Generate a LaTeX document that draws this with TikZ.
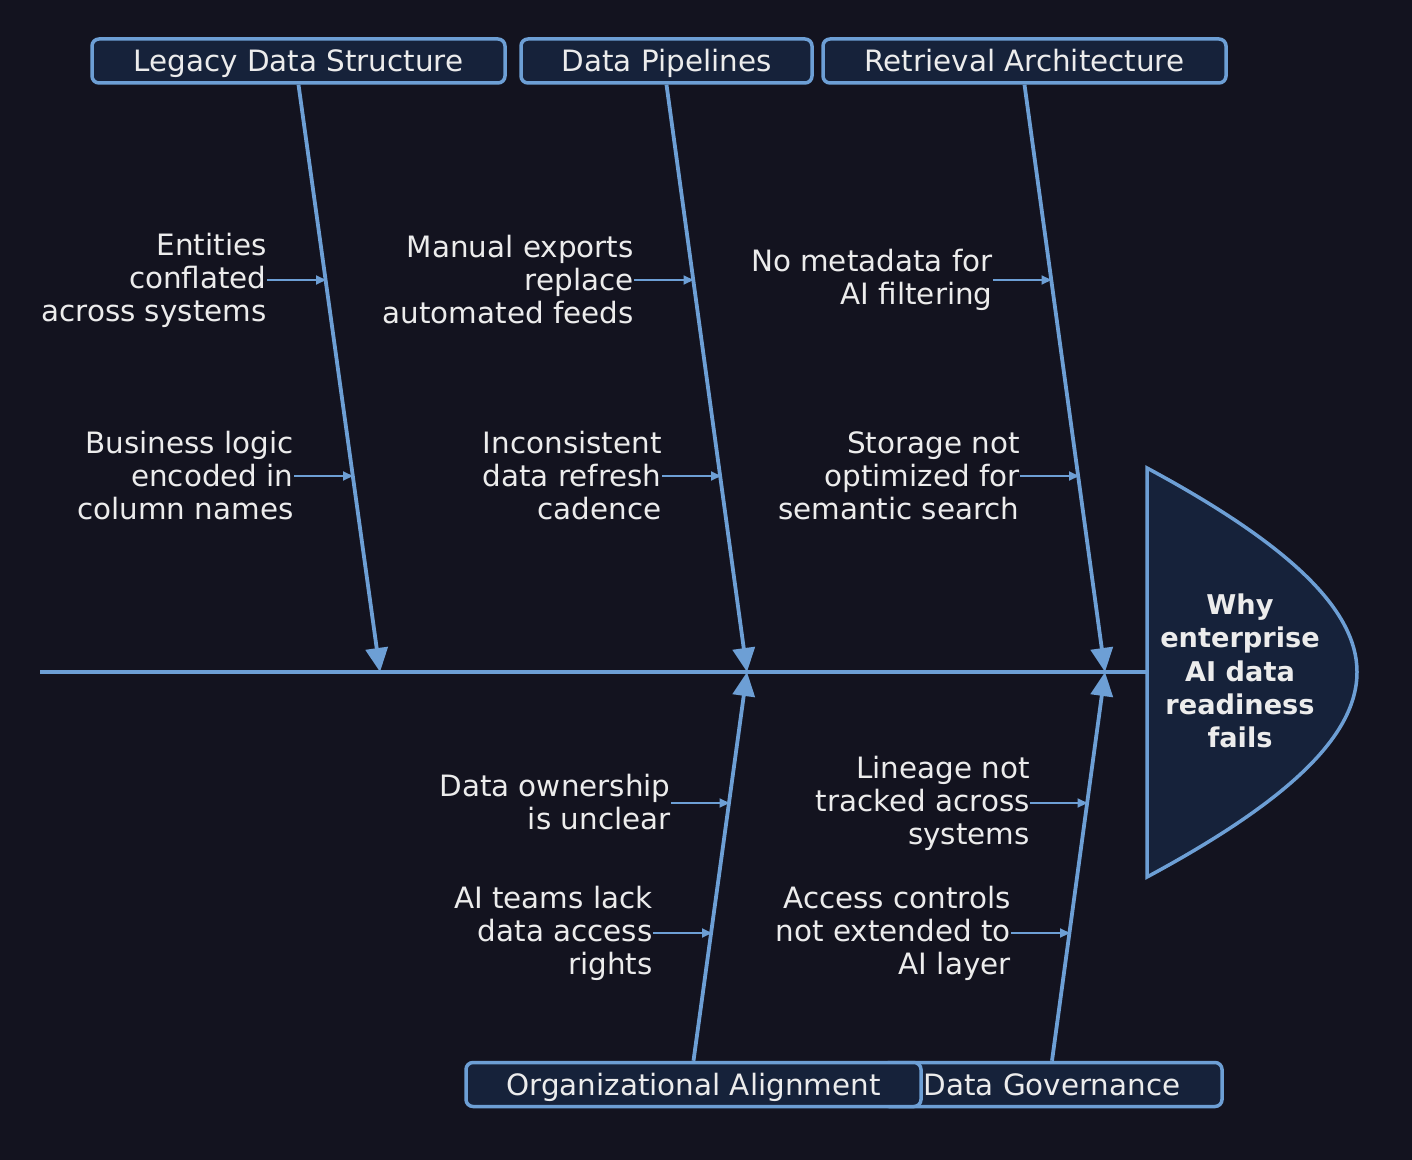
\documentclass[tikz,border=0pt]{standalone}
\usepackage{fontspec}
\setmainfont{DejaVu Sans}
\usetikzlibrary{arrows.meta}
\definecolor{bgc}{HTML}{13131F}
\definecolor{linec}{HTML}{6D9FD5}
\definecolor{fillc}{HTML}{16223A}
\definecolor{txtc}{HTML}{ECECEC}
\begin{document}
\begin{tikzpicture}[x=0.5pt,y=-0.5pt,
  catbox/.style={draw=linec, fill=fillc, line width=1.75pt, rounded corners=3.5pt,
    minimum height=22pt, inner sep=0pt, text=txtc, text height=13pt, text depth=2pt,
    font=\fontsize{14.7pt}{16.5pt}\selectfont},
  cause/.style={align=right, anchor=east, inner sep=0pt, text=txtc,
    font=\fontsize{14.7pt}{16.5pt}\selectfont},
  bone/.style={draw=linec, line width=1.9pt, -{Triangle[length=12pt,width=11pt]}},
  sub/.style={draw=linec, line width=1pt, -{Triangle[length=5pt,width=4.5pt]}}
]
\fill[bgc] (0,0) rectangle (1412,1160);
\useasboundingbox (0,0) rectangle (1412,1160);

% spine
\coordinate (spS) at (40,672);
\coordinate (spE) at (1147,672);
\draw[linec, line width=1.9pt] (spS) -- (spE);

% head
\draw[linec, fill=fillc, line width=1.75pt, line join=miter]
  (1147,468) .. controls (1290,545) and (1357,610) .. (1357,672)
  .. controls (1357,735) and (1290,800) .. (1147,877) -- cycle;
\node[text=txtc, align=center, font=\bfseries\fontsize{13.6pt}{16.6pt}\selectfont] (head) at (1240,671)
  {Why\\enterprise\\AI data\\readiness\\fails};

% category boxes
\node[catbox, minimum width=206.5pt] (c1) at (298.5,61) {Legacy Data Structure};
\node[catbox, minimum width=145.5pt] (c2) at (666.5,61) {Data Pipelines};
\node[catbox, minimum width=201.5pt] (c3) at (1024.5,61) {Retrieval Architecture};
\node[catbox, minimum width=170pt] (c5) at (1052,1084.5) {Data Governance};
\node[catbox, minimum width=227.5pt] (c4) at (693.5,1084.5) {Organizational Alignment};

% bone tips on spine
\coordinate (t1) at (380,672);
\coordinate (t2) at (747,672);
\coordinate (t3) at (1105,672);
\coordinate (t4) at (747,672);
\coordinate (t5) at (1105,672);

\draw[bone] (c1.south) -- (t1);
\draw[bone] (c2.south) -- (t2);
\draw[bone] (c3.south) -- (t3);
\draw[bone] (c4.north) -- (t4);
\draw[bone] (c5.north) -- (t5);

% causes
\node[cause] (a1) at (267,280) {Entities\\conflated\\across systems};
\node[cause] (a2) at (294,476) {Business logic\\encoded in\\column names};
\node[cause] (b1) at (634,280) {Manual exports\\replace\\automated feeds};
\node[cause] (b2) at (662,476) {Inconsistent\\data refresh\\cadence};
\node[cause] (r1) at (993,280) {No metadata for\\AI filtering};
\node[cause] (r2) at (1020,476) {Storage not\\optimized for\\semantic search};
\node[cause] (o1) at (671,802) {Data ownership\\is unclear};
\node[cause] (o2) at (653,933) {AI teams lack\\data access\\rights};
\node[cause] (g1) at (1030,803) {Lineage not\\tracked across\\systems};
\node[cause] (g2) at (1011,933) {Access controls\\not extended to\\AI layer};

\coordinate (pa1) at (326,280);
\coordinate (pa2) at (353,476);
\coordinate (pb1) at (693.5,280);
\coordinate (pb2) at (721,476);
\coordinate (pr1) at (1051.5,280);
\coordinate (pr2) at (1079,476);
\coordinate (po1) at (729.5,803);
\coordinate (po2) at (712,933);
\coordinate (pg1) at (1087.5,803);
\coordinate (pg2) at (1070,933);

\draw[sub] (a1.east |- pa1) -- (pa1);
\draw[sub] (a2.east |- pa2) -- (pa2);
\draw[sub] (b1.east |- pb1) -- (pb1);
\draw[sub] (b2.east |- pb2) -- (pb2);
\draw[sub] (r1.east |- pr1) -- (pr1);
\draw[sub] (r2.east |- pr2) -- (pr2);
\draw[sub] (o1.east |- po1) -- (po1);
\draw[sub] (o2.east |- po2) -- (po2);
\draw[sub] (g1.east |- pg1) -- (pg1);
\draw[sub] (g2.east |- pg2) -- (pg2);
\end{tikzpicture}
\end{document}
